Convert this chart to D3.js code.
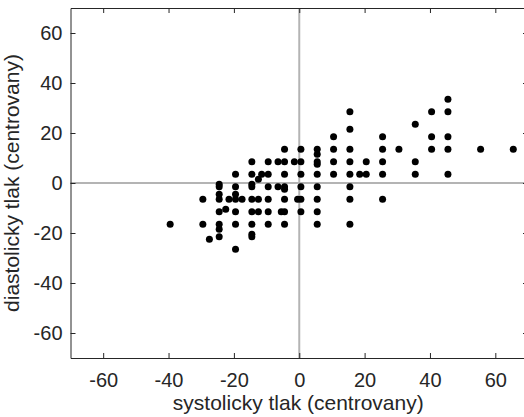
<!DOCTYPE html>
<html>
<head>
<meta charset="utf-8">
<script src="https://cdn.jsdelivr.net/npm/d3@7"></script>
<style>
  html, body { margin: 0; padding: 0; background: #fff; }
  svg { display: block; }
  text { font-family: "Liberation Sans", Arial, Helvetica, sans-serif; fill: #262626; }
</style>
</head>
<body>
<svg id="chart" width="524" height="417"></svg>
<script>
// Data (centered systolic / diastolic blood pressure)
const systolic = [
  -39.5,
  -29.5, -29.5,
  -27.5,
  -24.5, -24.5, -24.5, -24.5, -24.5, -24.5, -24.5, -24.5,
  -22.5,
  -21.5,
  -19.5, -19.5, -19.5, -19.5, -19.5, -19.5, -19.5,
  -17.5,
  -14.5, -14.5, -14.5, -14.5, -14.5, -14.5, -14.5, -14.5, -14.5,
  -12.5, -12.5, -12.5,
  -11.5,
  -9.5, -9.5, -9.5, -9.5, -9.5, -9.5,
  -6.5, -6.5,
  -5.5,
  -4.5, -4.5, -4.5, -4.5, -4.5, -4.5, -4.5, -4.5,
  -1.5,
  -0.5,
  0.5, 0.5, 0.5, 0.5, 0.5, 0.5,
  5.5, 5.5, 5.5, 5.5, 5.5, 5.5, 5.5, 5.5, 5.5,
  10.5, 10.5, 10.5, 10.5,
  15.5, 15.5, 15.5, 15.5, 15.5, 15.5, 15.5, 15.5,
  18.5,
  20.5, 20.5,
  25.5, 25.5, 25.5, 25.5, 25.5,
  30.5,
  35.5, 35.5, 35.5,
  40.5, 40.5, 40.5,
  45.5, 45.5, 45.5, 45.5, 45.5,
  55.5,
  65.5
];
const diastolic = [
  -16.5,
  -6.5, -16.5,
  -22.5,
  -0.5, -1.5, -4.5, -6.5, -11.5, -16.5, -18.5, -21.5,
  -10.5,
  -6.5,
  3.5, -1.5, -4.5, -6.5, -11.5, -16.5, -26.5,
  -6.5,
  8.5, 3.5, -0.5, -1.5, -6.5, -11.5, -16.5, -20.5, -21.5,
  1.5, -6.5, -11.5,
  3.5,
  8.5, 3.5, -1.5, -6.5, -11.5, -16.5,
  8.5, -1.5,
  -11.5,
  13.5, 8.5, 3.5, -1.5, -2.5, -6.5, -11.5, -16.5,
  8.5,
  -6.5,
  13.5, 8.5, 3.5, -1.5, -6.5, -11.5,
  13.5, 11.5, 8.5, 7.5, 3.5, -1.5, -6.5, -11.5, -16.5,
  18.5, 13.5, 8.5, 3.5,
  28.5, 21.5, 13.5, 8.5, 3.5, -1.5, -6.5, -16.5,
  3.5,
  8.5, 3.5,
  18.5, 13.5, 8.5, 3.5, -6.5,
  13.5,
  23.5, 8.5, 3.5,
  28.5, 18.5, 13.5,
  33.5, 28.5, 18.5, 13.5, 3.5,
  13.5,
  13.5
];
const xTicks = [-60, -40, -20, 0, 20, 40, 60];
const yTicks = [-60, -40, -20, 0, 20, 40, 60];
const xDomain = [-70, 70];
const yDomain = [-70, 70];
const xLabel = "systolicky tlak (centrovany)";
const yLabel = "diastolicky tlak (centrovany)";

(function () {
const svg = d3.select("#chart");
const mLeft = 70.5, mRight = 528, mTop = 8, mBottom = 358;
const axisColor = "#262626";

const x = d3.scaleLinear().domain(xDomain).range([mLeft, mRight]);
const y = d3.scaleLinear().domain(yDomain).range([mBottom, mTop]);

// zero reference lines
svg.append("line")
  .attr("x1", x(0)).attr("x2", x(0))
  .attr("y1", y(yDomain[0])).attr("y2", y(yDomain[1]))
  .attr("stroke", "#b4b4b4").attr("stroke-width", 2);
svg.append("line")
  .attr("x1", x(xDomain[0])).attr("x2", x(xDomain[1]))
  .attr("y1", y(0)).attr("y2", y(0))
  .attr("stroke", "#b4b4b4").attr("stroke-width", 2);

// points
const pts = systolic.map((s, i) => [s, diastolic[i]]);
svg.append("g").selectAll("circle")
  .data(pts).join("circle")
  .attr("cx", d => x(d[0]))
  .attr("cy", d => y(d[1]))
  .attr("r", 3.5)
  .attr("fill", "#000");

function styleAxis(g) {
  g.selectAll("path.domain").attr("stroke", axisColor).attr("stroke-width", 1);
  g.selectAll(".tick line").attr("stroke", axisColor).attr("stroke-width", 1);
  g.selectAll(".tick text").attr("fill", axisColor)
    .style("font-family", '"Liberation Sans", Arial, sans-serif')
    .style("font-size", "20px");
}

const fmt = d => String(d);

svg.append("g").attr("transform", `translate(0,${mBottom})`)
  .call(d3.axisBottom(x).tickValues(xTicks).tickSizeInner(-5).tickSizeOuter(0).tickPadding(15).tickFormat(fmt))
  .call(styleAxis);
svg.append("g").attr("transform", `translate(0,${mTop})`)
  .call(d3.axisTop(x).tickValues(xTicks).tickSizeInner(-5).tickSizeOuter(0).tickFormat(""))
  .call(styleAxis);
svg.append("g").attr("transform", `translate(${mLeft},0)`)
  .call(d3.axisLeft(y).tickValues(yTicks).tickSizeInner(-5).tickSizeOuter(0).tickPadding(8).tickFormat(fmt))
  .call(styleAxis);
svg.append("g").attr("transform", `translate(${mRight},0)`)
  .call(d3.axisRight(y).tickValues(yTicks).tickSizeInner(-5).tickSizeOuter(0).tickFormat(""))
  .call(styleAxis);

// axis labels
svg.append("text")
  .attr("x", (mLeft + mRight) / 2 - 1)
  .attr("y", 410)
  .attr("text-anchor", "middle")
  .style("font-size", "21px")
  .text(xLabel);
svg.append("text")
  .attr("transform", `translate(19,${(mTop + mBottom) / 2}) rotate(-90)`)
  .attr("text-anchor", "middle")
  .style("font-size", "21px")
  .text(yLabel);
})();
</script>
</body>
</html>
